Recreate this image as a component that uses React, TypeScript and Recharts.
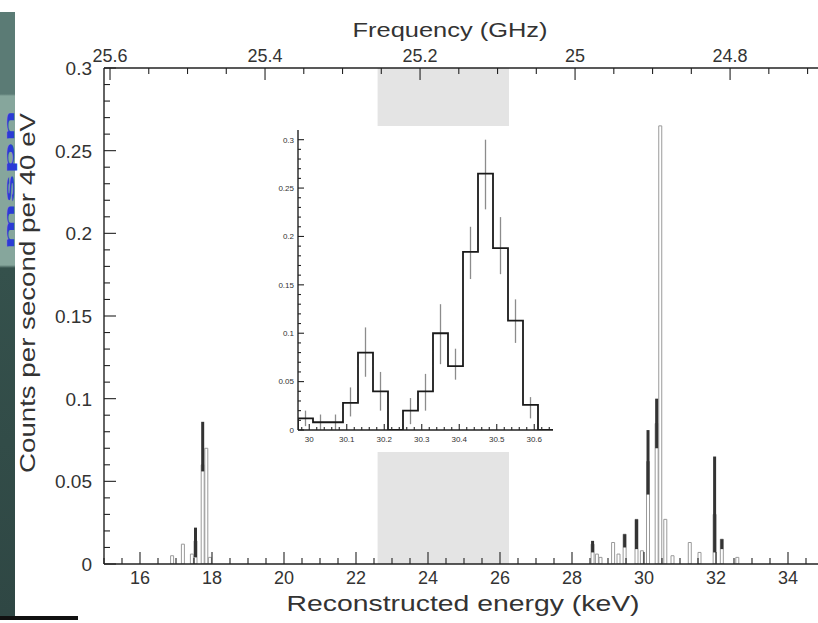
import React from 'react';
import { ComposedChart, Bar, Line, XAxis, YAxis, ReferenceArea, ErrorBar } from 'recharts';

// main spectrum, 40 eV bins (only the non-empty ones)
const energies = [16.9, 17.2, 17.45, 17.55, 17.75, 17.85, 17.95, 28.58, 28.7, 28.8, 29.15, 29.3, 29.47, 29.8, 29.95, 30.12, 30.36, 30.46, 30.6, 30.8, 31.28, 31.55, 31.97, 32.17, 32.6];
const counts = [0.005, 0.012, 0.006, 0.014, 0.06, 0.07, 0.004, 0.012, 0.006, 0.004, 0.013, 0.006, 0.018, 0.027, 0.008, 0.062, 0.085, 0.265, 0.027, 0.005, 0.013, 0.007, 0.03, 0.015, 0.004];
const errLow = [0, 0, 0, 0.01, 0.004, 0, 0, 0.005, 0, 0, 0, 0, 0.008, 0.018, 0, 0.02, 0.015, 0, 0, 0, 0, 0, 0.023, 0.006, 0];
const errHigh = [0, 0, 0, 0.008, 0.026, 0, 0, 0.002, 0, 0, 0, 0, 0, 0, 0, 0.019, 0.015, 0, 0, 0, 0, 0, 0.035, 0, 0];

// inset: zoom on the ~30.4 keV line
const insetEnergies = [29.95, 29.99, 30.03, 30.07, 30.11, 30.15, 30.19, 30.23, 30.27, 30.31, 30.35, 30.39, 30.43, 30.47, 30.51, 30.55, 30.59, 30.63, 30.67];
const insetCounts = [0, 0.012, 0.008, 0.008, 0.028, 0.08, 0.04, 0, 0.02, 0.04, 0.1, 0.066, 0.184, 0.265, 0.188, 0.113, 0.026, 0, 0];
const insetErrLow = [0, 0.008, 0.008, 0.008, 0.014, 0.025, 0.02, 0, 0.014, 0.02, 0.032, 0.014, 0.028, 0.037, 0.027, 0.023, 0.014, 0, 0];
const insetErrHigh = [0, 0.008, 0.008, 0.008, 0.016, 0.026, 0.02, 0, 0.013, 0.018, 0.03, 0.018, 0.026, 0.035, 0.032, 0.022, 0.008, 0, 0];

// axes
const energyTicks = [15, 15.5, 16, 16.5, 17, 17.5, 18, 18.5, 19, 19.5, 20, 20.5, 21, 21.5, 22, 22.5, 23, 23.5, 24, 24.5, 25, 25.5, 26, 26.5, 27, 27.5, 28, 28.5, 29, 29.5, 30, 30.5, 31, 31.5, 32, 32.5, 33, 33.5, 34, 34.5, 35];
const energyLabels = [16, 18, 20, 22, 24, 26, 28, 30, 32, 34];
const countTicks = [0, 0.01, 0.02, 0.03, 0.04, 0.05, 0.06, 0.07, 0.08, 0.09, 0.1, 0.11, 0.12, 0.13, 0.14, 0.15, 0.16, 0.17, 0.18, 0.19, 0.2, 0.21, 0.22, 0.23, 0.24, 0.25, 0.26, 0.27, 0.28, 0.29, 0.3];
const countLabels = [0, 0.05, 0.1, 0.15, 0.2, 0.25, 0.3];
const freqTicks = [24.7, 24.75, 24.8, 24.85, 24.9, 24.95, 25, 25.05, 25.1, 25.15, 25.2, 25.25, 25.3, 25.35, 25.4, 25.45, 25.5, 25.55, 25.6];
const freqLabels = [24.8, 25, 25.2, 25.4, 25.6];
const insetXTicks = [29.98, 30, 30.02, 30.04, 30.06, 30.08, 30.1, 30.12, 30.14, 30.16, 30.18, 30.2, 30.22, 30.24, 30.26, 30.28, 30.3, 30.32, 30.34, 30.36, 30.38, 30.4, 30.42, 30.44, 30.46, 30.48, 30.5, 30.52, 30.54, 30.56, 30.58, 30.6, 30.62, 30.64];
const insetXLabels = [30, 30.1, 30.2, 30.3, 30.4, 30.5, 30.6];

// frequency scale of the top axis, expressed on the energy axis
const F0 = 25.6;
const E_AT_F0 = 15.167;
const KEV_PER_GHZ = 21.53;
const freqToEnergy = (f: number) => E_AT_F0 + (F0 - f) * KEV_PER_GHZ;
const energyToFreq = (e: number) => Math.round((F0 - (e - E_AT_F0) / KEV_PER_GHZ) * 100) / 100;
const topTicks = freqTicks.map(freqToEnergy);

const mainData = energies.map((e, i) => ({ e, c: counts[i], err: [errLow[i], errHigh[i]] }));
const insetData = insetEnergies.map((e, i) => ({ e, c: insetCounts[i], err: [insetErrLow[i], insetErrHigh[i]] }));

const TM = 8;
const AXIS = '#222';
const TEXT = '#333';
const FONT = '"Liberation Sans", Arial, Helvetica, sans-serif';

type Side = 'bottom' | 'top' | 'left';

function makeTick(side: Side, labels: number[], major: number, minor: number, fontSize: number, gap: number, toLabel?: (v: number) => number) {
  return (props: any) => {
    const { x, y, payload } = props;
    const v = toLabel ? toLabel(payload.value) : (payload.value as number);
    const lab = labels.some((l) => Math.abs(l - v) < 1e-6);
    const len = lab ? major : minor;
    const txt = { fontSize, fill: TEXT, fontFamily: FONT };
    if (side === 'bottom') {
      const ay = y - TM;
      return (
        <g>
          <line x1={x} x2={x} y1={ay} y2={ay - len} stroke={AXIS} strokeWidth={1.1} />
          {lab && <text x={x} y={ay + gap} textAnchor="middle" {...txt}>{String(v)}</text>}
        </g>
      );
    }
    if (side === 'top') {
      const ay = y + TM;
      return (
        <g>
          <line x1={x} x2={x} y1={ay} y2={ay + len} stroke={AXIS} strokeWidth={1.1} />
          {lab && <text x={x} y={ay - gap} textAnchor="middle" {...txt}>{String(v)}</text>}
        </g>
      );
    }
    const ax = x + TM;
    return (
      <g>
        <line x1={ax} x2={ax + len} y1={y} y2={y} stroke={AXIS} strokeWidth={1.1} />
        {lab && <text x={ax - gap} y={y} dy="0.36em" textAnchor="end" {...txt}>{String(v)}</text>}
      </g>
    );
  };
}

const axisLine = { stroke: AXIS, strokeWidth: 1.4 };

function Inset() {
  return (
    <div style={{ position: 'absolute', left: 270, top: 126, width: 288, height: 326, background: '#fff' }}>
      <ComposedChart width={288} height={326} data={insetData} margin={{ top: 4, right: 5, bottom: 0, left: 0 }}>
        <XAxis xAxisId="b" dataKey="e" type="number" domain={[29.97, 30.65]} allowDataOverflow ticks={insetXTicks} interval={0}
          tickSize={0} tickMargin={TM} tickLine={false} axisLine={axisLine} height={22}
          tick={makeTick('bottom', insetXLabels, 6, 3, 8, 12)} />
        <XAxis xAxisId="t" orientation="top" type="number" domain={[29.97, 30.65]} allowDataOverflow tick={false} tickLine={false} axisLine={axisLine} height={0} />
        <YAxis yAxisId="l" type="number" domain={[0, 0.31]} allowDataOverflow ticks={countTicks} interval={0}
          tickSize={0} tickMargin={TM} tickLine={false} axisLine={axisLine} width={28}
          tick={makeTick('left', countLabels, 6, 3, 8, 4)} />
        <YAxis yAxisId="r" orientation="right" type="number" domain={[0, 0.31]} allowDataOverflow tick={false} tickLine={false} axisLine={axisLine} width={0} />
        <Line xAxisId="b" yAxisId="l" type="step" dataKey="c" stroke="#1a1a1a" strokeWidth={1.8} dot={false} isAnimationActive={false}>
          <ErrorBar dataKey="err" width={0} stroke="#8c8c8c" strokeWidth={1.3} direction="y" />
        </Line>
      </ComposedChart>
    </div>
  );
}

export default function App() {
  return (
    <div style={{ position: 'absolute', left: 0, top: 0, width: 818, height: 623, overflow: 'hidden', background: '#fff' }}>
      <style>{'body{margin:0;overflow:hidden}'}</style>
      <ComposedChart width={850} height={623} data={mainData} margin={{ top: 0, right: 26, bottom: 0, left: 0 }}>
        <XAxis xAxisId="e" dataKey="e" type="number" domain={[15, 35]} allowDataOverflow ticks={energyTicks} interval={0}
          tickSize={0} tickMargin={TM} tickLine={false} axisLine={axisLine} height={59}
          tick={makeTick('bottom', energyLabels, 12, 6, 18, 20)} />
        <XAxis xAxisId="f" dataKey="e" orientation="top" type="number" domain={[15, 35]} allowDataOverflow ticks={topTicks} interval={0}
          tickSize={0} tickMargin={TM} tickLine={false} axisLine={axisLine} height={68}
          tick={makeTick('top', freqLabels, 12, 6, 18, 6, energyToFreq)} />
        <YAxis yAxisId="c" type="number" domain={[0, 0.3]} allowDataOverflow ticks={countTicks} interval={0}
          tickSize={0} tickMargin={TM} tickLine={false} axisLine={axisLine} width={104}
          tick={makeTick('left', countLabels, 12, 6, 19, 12)} />
        <ReferenceArea xAxisId="e" yAxisId="c" x1={22.6} x2={26.25} fill="#e4e4e4" fillOpacity={1} stroke="none" />
        <Bar xAxisId="e" yAxisId="c" dataKey="c" barSize={3} fill="#fff" stroke="#9a9a9a" strokeWidth={1} isAnimationActive={false}>
          <ErrorBar dataKey="err" width={0} stroke="#333" strokeWidth={3} direction="y" />
        </Bar>
        <Line xAxisId="f" yAxisId="c" dataKey="c" stroke="none" dot={false} activeDot={false} legendType="none" isAnimationActive={false} />
      </ComposedChart>
      <Inset />
      <div style={{ position: 'absolute', left: 0, top: 12, width: 15, height: 604, background: 'linear-gradient(#5b7b75 0px, #5b7b75 82px, #86a69c 84px, #86a69c 253px, #35514c 256px, #2f4744 604px)' }} />
      <svg width={818} height={623} style={{ position: 'absolute', left: 0, top: 0, pointerEvents: 'none' }}>
        <text x={0} y={0} transform="translate(14 180) rotate(-90)" textAnchor="middle" fontSize={13} fontWeight="bold" fill="#2a3bd6" fontFamily={FONT} textLength={140} lengthAdjust="spacingAndGlyphs">mspn</text>
        <text x={450} y={37} textAnchor="middle" fontSize={20} fill={TEXT} fontFamily={FONT} textLength={195} lengthAdjust="spacingAndGlyphs">Frequency (GHz)</text>
        <text x={463} y={611} textAnchor="middle" fontSize={22} fill={TEXT} fontFamily={FONT} textLength={353} lengthAdjust="spacingAndGlyphs">Reconstructed energy (keV)</text>
        <text x={0} y={0} transform="translate(35 293) rotate(-90)" textAnchor="middle" fontSize={22} fill={TEXT} fontFamily={FONT} textLength={360} lengthAdjust="spacingAndGlyphs">Counts per second per 40 eV</text>
      </svg>
      <div style={{ position: 'absolute', left: 0, top: 616, width: 78, height: 4, background: '#111' }} />
    </div>
  );
}
